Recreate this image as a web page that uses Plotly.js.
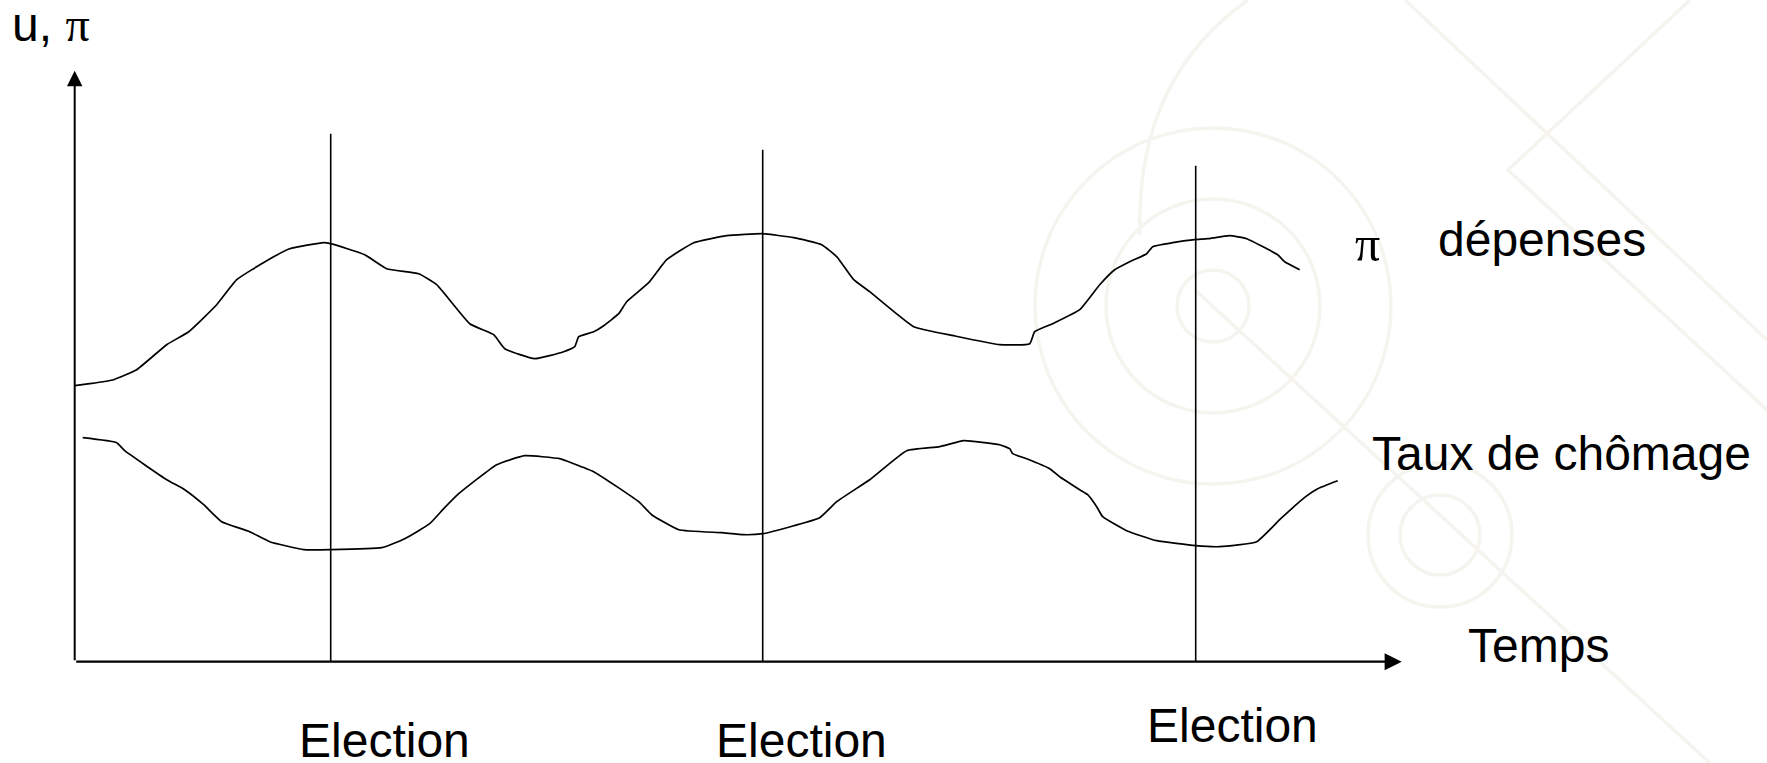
<!DOCTYPE html>
<html>
<head>
<meta charset="utf-8">
<script src="https://cdn.plot.ly/plotly-3.0.1.min.js"></script>
<style>
  html, body { margin: 0; padding: 0; background: #fff; }
  #chart { width: 1767px; height: 763px; }
</style>
</head>
<body>
<div id="chart"></div>
<script>
// Political business cycle sketch: inflation (pi) and unemployment (u)
// around successive elections.

const W = 1767, H = 763;

// time axis (arbitrary units, origin at the corner of the axes)
const piTime = [0, 1.5, 3.9, 6.2, 9.2, 11.4, 14.2, 16.2, 19.2, 21.5, 24.9, 25.6, 29.0, 31.2, 34.4,
  36.2, 39.5, 41.9, 43.0, 46.0, 48.9, 50.0, 50.4, 51.9, 52.9, 54.4, 55.2, 57.4, 59.2, 61.9, 65.2,
  68.8, 71.9, 74.7, 76.2, 77.9, 79.5, 83.9, 87.9, 92.5, 95.5, 96.0, 97.8, 100.5, 102.5, 104.0,
  105.5, 107.2, 107.8, 109.8, 112.0, 113.3, 115.5, 117.2, 119.2, 120.3, 121.0, 122.5];
const piLevel = [27.6, 27.8, 28.2, 29.2, 31.7, 33.0, 35.7, 38.2, 40.1, 41.3, 41.9, 41.8, 40.7, 39.3, 38.8,
  37.7, 33.8, 32.7, 31.3, 30.3, 31.0, 31.5, 32.5, 33.0, 33.6, 34.8, 36.0, 37.9, 40.2, 41.9, 42.6,
  42.8, 42.4, 41.7, 40.5, 38.2, 37.0, 33.5, 32.6, 31.7, 31.8, 33.0, 33.8, 35.2, 37.7, 39.2,
  40.0, 40.8, 41.5, 41.9, 42.2, 42.3, 42.6, 42.3, 41.3, 40.7, 40.0, 39.2];

const uTime = [0.8, 4.2, 5.0, 9.2, 11.0, 12.9, 14.7, 17.5, 19.5, 22.9, 25.6, 30.7, 33.0, 35.5, 36.9,
  38.4, 42.2, 45.0, 48.5, 49.9, 51.9, 56.4, 57.7, 60.4, 64.7, 66.9, 68.8, 71.9, 74.5, 76.2, 79.5,
  83.2, 86.5, 88.9, 92.5, 93.5, 93.8, 95.2, 97.5, 98.5, 100.5, 101.3, 102.2, 102.8, 105.2, 108.2,
  112.1, 114.5, 118.2, 120.6, 123.1, 124.3, 126.3];
const uLevel = [22.4, 21.9, 21.1, 18.2, 17.2, 15.7, 14.0, 13.0, 12.0, 11.2, 11.2, 11.4, 12.3, 13.8, 15.3,
  16.8, 19.7, 20.6, 20.3, 19.8, 19.0, 16.0, 14.7, 13.2, 12.9, 12.7, 12.8, 13.6, 14.4, 16.0, 18.2,
  21.1, 21.5, 22.1, 21.7, 21.3, 20.8, 20.3, 19.3, 18.5, 17.2, 16.7, 15.5, 14.5, 13.1, 12.1,
  11.6, 11.5, 12.0, 14.3, 16.5, 17.3, 18.1];

// elections: date and height of the marker line
const electionTime = [25.6, 68.8, 112.1];
const electionTop  = [52.8, 51.2, 49.6];
const electionLabel = ['Election', 'Election', 'Election'];

const timeAxisEnd  = 132.7;
const levelAxisEnd = 59.1;

// --- traces
const ex = [], ey = [];
electionTime.forEach((t, i) => { ex.push(t, t, null); ey.push(0, electionTop[i], null); });

const curveStyle = { color: '#000', width: 1.7, shape: 'spline', smoothing: 0.4 };
const traces = [
  { x: ex, y: ey, type: 'scatter', mode: 'lines', line: { color: '#000', width: 1.6 }, hoverinfo: 'skip' },
  { x: piTime, y: piLevel, type: 'scatter', mode: 'lines', line: curveStyle, name: 'dépenses' },
  { x: uTime, y: uLevel, type: 'scatter', mode: 'lines', line: curveStyle, name: 'Taux de chômage' }
];

// --- faint slide-template watermark (pixel coords -> paper)
const px = x => x / W;
const py = y => 1 - y / H;
const wm = '#f5f4ef';
function ring(cx, cy, r, w) {
  return { type: 'circle', xref: 'paper', yref: 'paper', layer: 'below',
    x0: px(cx - r), x1: px(cx + r), y0: py(cy + r), y1: py(cy - r),
    line: { color: wm, width: w } };
}
function seg(pts, w) {
  const d = pts.map((p, i) => (i ? 'L' : 'M') + px(p[0]) + ',' + py(p[1])).join(' ');
  return { type: 'path', xref: 'paper', yref: 'paper', layer: 'below', path: d,
    line: { color: wm, width: w } };
}
const shapes = [
  ring(1213, 306, 36, 3.5), ring(1213, 306, 107, 3.5), ring(1213, 306, 178, 3.5),
  ring(1440, 535, 40, 3.5), ring(1440, 535, 72, 3.5),
  { type: 'path', xref: 'paper', yref: 'paper', layer: 'below',
    path: 'M' + px(1140) + ',' + py(235) + ' Q' + px(1135) + ',' + py(80) + ' ' + px(1248) + ',' + py(0),
    line: { color: wm, width: 3.5 } },
  seg([[1195, 290], [1710, 763]], 3.5),
  seg([[1405, 0], [1767, 340]], 3.5),
  seg([[1690, 0], [1508, 170], [1767, 410]], 3.5)
];

// --- labels and axes arrows
const F = 'Liberation Sans, Arial, sans-serif';
const FS = 48;
const txt = (t, x, y, extra) => Object.assign({
  text: t, x: x, y: y, xref: 'x', yref: 'y', showarrow: false, borderpad: 0,
  xanchor: 'left', yanchor: 'middle', font: { family: F, size: FS, color: '#000' }
}, extra || {});

const annotations = [
  // axes with arrow heads
  { x: 0, y: levelAxisEnd, ax: 0, ay: 0, xref: 'x', yref: 'y', axref: 'x', ayref: 'y',
    text: '', showarrow: true, arrowhead: 2, arrowsize: 1.55, arrowwidth: 2, arrowcolor: '#000', standoff: 0 },
  { x: timeAxisEnd, y: 0, ax: 0, ay: 0, xref: 'x', yref: 'y', axref: 'x', ayref: 'y',
    text: '', showarrow: true, arrowhead: 2, arrowsize: 1.55, arrowwidth: 2.2, arrowcolor: '#000', standoff: 0 },

  txt('u, <span style="font-family:Liberation Serif">π</span>', -6.4, 63.7),
  txt('π', 127.9, 41.8, { font: { family: 'Liberation Serif, Times New Roman, serif', size: 50, color: '#000' } }),
  txt('dépenses', 136.2, 42.2),
  txt('Taux de chômage', 129.6, 20.8),
  txt('Temps', 139.2, 1.6),
  txt(electionLabel[0], 22.3, -7.9),
  txt(electionLabel[1], 64.0, -7.9),
  txt(electionLabel[2], 107.1, -6.4)
];

const xmin = -7.47, ymax = 66.17;
const layout = {
  width: W, height: H,
  margin: { l: 0, r: 0, t: 0, b: 0 },
  paper_bgcolor: '#fff', plot_bgcolor: '#fff',
  showlegend: false,
  xaxis: { visible: false, range: [xmin, xmin + W / 10], fixedrange: true },
  yaxis: { visible: false, range: [ymax - H / 10, ymax], fixedrange: true },
  shapes: shapes,
  annotations: annotations
};

Plotly.newPlot('chart', traces, layout, { staticPlot: true, displayModeBar: false });
</script>
</body>
</html>
